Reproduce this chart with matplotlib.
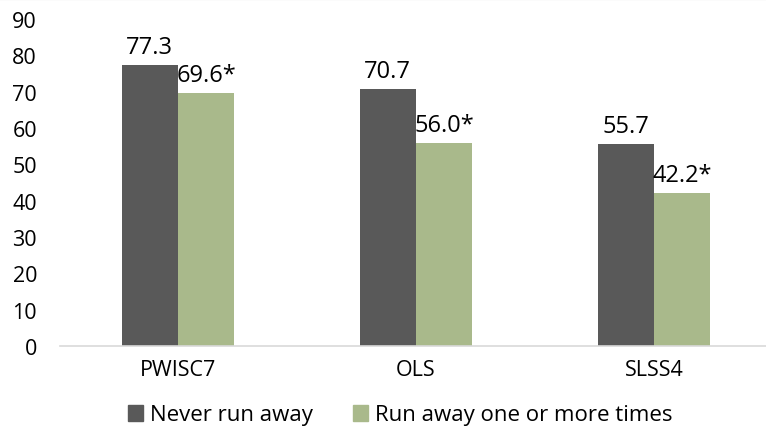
import matplotlib
matplotlib.use("Agg")
import matplotlib.pyplot as plt
from matplotlib.lines import Line2D
import numpy as np

categories = ["PWISC7", "OLS", "SLSS4"]
never_run = [77.3, 70.7, 55.7]
run_away = [69.6, 56.0, 42.2]
run_away_labels = ["69.6*", "56.0*", "42.2*"]
series_names = ["Never run away", "Run away one or more times"]

dark = "#595959"
green = "#a9b98b"

plt.rcParams["font.family"] = ["Open Sans", "DejaVu Sans"]

fig = plt.figure(figsize=(7.66, 4.31), dpi=100)
ax = fig.add_axes([60 / 766, 1 - 347 / 431, 714 / 766, (347 - 20) / 431])

x = np.arange(len(categories))
w = 0.237
b1 = ax.bar(x - w / 2, never_run, w, color=dark)
b2 = ax.bar(x + w / 2, run_away, w, color=green)

label_size = 17
for rect, v in zip(b1, never_run):
    ax.annotate(f"{v:.1f}", (rect.get_x() + rect.get_width() / 2, v),
                xytext=(0, 8.5), textcoords="offset points",
                ha="center", va="baseline", fontsize=label_size, color="black")
for rect, v, lab in zip(b2, run_away, run_away_labels):
    ax.annotate(lab, (rect.get_x() + rect.get_width() / 2, v),
                xytext=(0, 8.5), textcoords="offset points",
                ha="center", va="baseline", fontsize=label_size, color="black")

ax.set_xlim(-0.496, 2.504)
ax.set_ylim(0, 90)
ax.set_yticks(range(0, 91, 10))
ax.set_xticks(x)
ax.set_xticklabels(categories)
ax.tick_params(axis="both", length=0, labelsize=15.5)
ax.tick_params(axis="y", pad=16.5)
ax.tick_params(axis="x", pad=9.5)
for s in ["top", "right", "left"]:
    ax.spines[s].set_visible(False)
ax.spines["bottom"].set_color("#d9d9d9")
ax.spines["bottom"].set_linewidth(1.2)

handles = [plt.Rectangle((0, 0), 1, 1, color=dark),
           plt.Rectangle((0, 0), 1, 1, color=green)]
fig.legend(handles, series_names, loc="center", bbox_to_anchor=(400 / 766, 1 - 416 / 431),
           ncol=2, frameon=False, fontsize=16, handlelength=0.7, handleheight=0.7,
           handletextpad=0.3, columnspacing=1.8, borderpad=0)

fig.add_artist(Line2D([0, 1], [0.999, 0.999], transform=fig.transFigure,
                      color="#a6a6a6", linewidth=1.5))

fig.savefig("out.png", dpi=100)
